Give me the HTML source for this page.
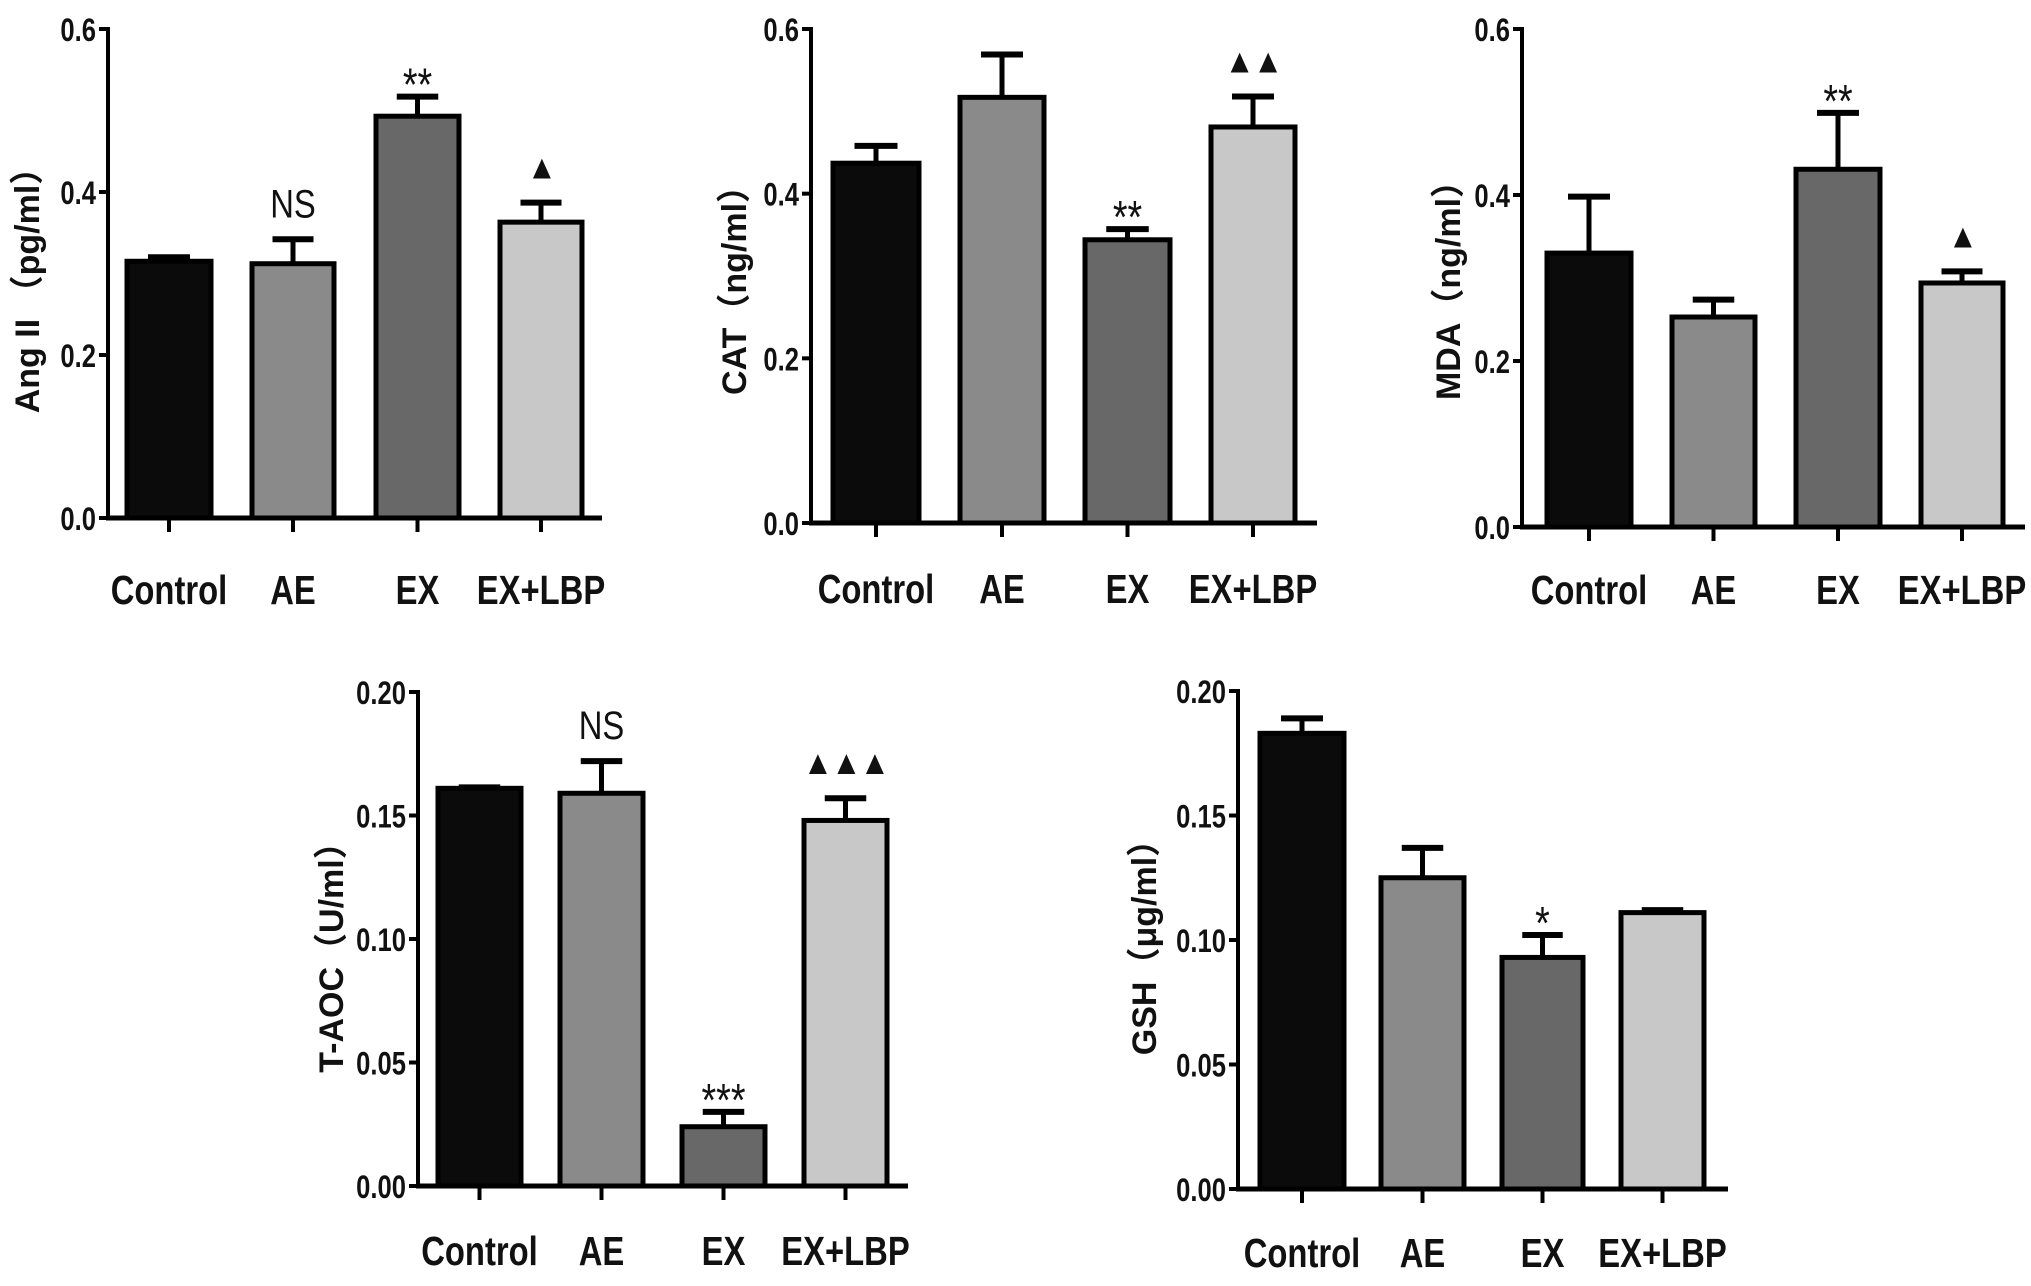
<!DOCTYPE html>
<html><head><meta charset="utf-8"><style>
html,body{margin:0;padding:0;background:#fff;}
svg{display:block;}
</style></head><body>
<svg id="fig" width="2031" height="1286" viewBox="0 0 2031 1286" xmlns="http://www.w3.org/2000/svg"></svg>
<script>
const categories = ["Control","AE","EX","EX+LBP"];
const angValues = [0.315, 0.312, 0.493, 0.363];
const angErr = [0.320, 0.342, 0.517, 0.387];
const angTicks = ["0.0","0.2","0.4","0.6"];
const catValues = [0.437, 0.517, 0.344, 0.481];
const catErr = [0.458, 0.569, 0.357, 0.518];
const catTicks = ["0.0","0.2","0.4","0.6"];
const mdaValues = [0.330, 0.253, 0.431, 0.294];
const mdaErr = [0.398, 0.274, 0.499, 0.308];
const mdaTicks = ["0.0","0.2","0.4","0.6"];
const taocValues = [0.161, 0.159, 0.024, 0.148];
const taocErr = [0.161, 0.172, 0.030, 0.157];
const taocTicks = ["0.00","0.05","0.10","0.15","0.20"];
const gshValues = [0.183, 0.125, 0.093, 0.111];
const gshErr = [0.189, 0.137, 0.102, 0.112];
const gshTicks = ["0.00","0.05","0.10","0.15","0.20"];
const angMarks = ["", "NS", "**", "▲"];
const catMarks = ["", "", "**", "▲▲"];
const mdaMarks = ["", "", "**", "▲"];
const taocMarks = ["", "NS", "***", "▲▲▲"];
const gshMarks = ["", "", "*", ""];

const fills = ["#0b0b0b","#8a8a8a","#686868","#c8c8c8"];
const NS = "http://www.w3.org/2000/svg";
const svg = document.getElementById("fig");
function mk(tag, attrs, parent){
  const e = document.createElementNS(NS, tag);
  for (const k in attrs) e.setAttribute(k, attrs[k]);
  (parent||svg).appendChild(e);
  return e;
}
const panels = [
  {id:"ang", title:"Ang II （pg/ml）", vals:angValues, err:angErr, ticks:angTicks, marks:angMarks, max:0.6,
   ax:108, top:29, zero:518, right:602, bars:[[127,211],[252,334],[376,459],[500,582]], labY:604, tx:28, ty:282},
  {id:"cat", title:"CAT（ng/ml）", vals:catValues, err:catErr, ticks:catTicks, marks:catMarks, max:0.6,
   ax:811, top:29, zero:523, right:1317, bars:[[833,919],[960,1044],[1085,1170],[1211,1295]], labY:603, tx:735, ty:282},
  {id:"mda", title:"MDA（ng/ml）", vals:mdaValues, err:mdaErr, ticks:mdaTicks, marks:mdaMarks, max:0.6,
   ax:1522, top:29, zero:527, right:2025, bars:[[1547,1631],[1672,1755],[1796,1880],[1921,2003]], labY:604, tx:1449, ty:282},
  {id:"taoc", title:"T-AOC（U/ml）", vals:taocValues, err:taocErr, ticks:taocTicks, marks:taocMarks, max:0.2,
   ax:418, top:692, zero:1186, right:908, bars:[[438,521],[560,643],[682,765],[804,887]], labY:1265, tx:332, ty:949},
  {id:"gsh", title:"GSH（μg/ml）", vals:gshValues, err:gshErr, ticks:gshTicks, marks:gshMarks, max:0.2,
   ax:1238, top:691, zero:1189, right:1728, bars:[[1260,1344],[1381,1464],[1502,1583],[1621,1704]], labY:1267, tx:1145, ty:939}
];
const FONT = '"Liberation Sans", "Noto Sans CJK SC", sans-serif';
panels.forEach(p => {
  const g = mk("g", {});
  
  
  const y = v => p.zero - v / p.max * (p.zero - p.top);
  p.vals.forEach((v, i) => {
    const [x0, x1] = p.bars[i];
    const r = mk("rect", {x:x0, y:y(v), width:x1-x0, height:p.zero-y(v), fill:fills[i], stroke:"#000", "stroke-width":5}, g);
    
    
    const cx = (x0+x1)/2, w = (x1-x0);
    if (p.err[i] > v + 0.0005) {
      const ln = mk("line", {x1:cx, x2:cx, y1:y(v), y2:y(p.err[i]), stroke:"#000", "stroke-width":5}, g);
      
      
      const cap = mk("line", {x1:cx-w*0.25, x2:cx+w*0.25, y1:y(p.err[i]), y2:y(p.err[i]), stroke:"#000", "stroke-width":6}, g);
      
      
    } else {
      const cap = mk("line", {x1:cx-w*0.25, x2:cx+w*0.25, y1:y(v)-2, y2:y(v)-2, stroke:"#000", "stroke-width":4}, g);
      
      
    }
    const xt = mk("line", {x1:cx, x2:cx, y1:p.zero, y2:p.zero+14, stroke:"#000", "stroke-width":4}, g);
    
    
    const t = mk("text", {transform:`translate(${cx},${p.labY}) scale(0.8,1)`, "text-anchor":"middle", "font-family":FONT, "font-weight":"bold", "font-size":41, fill:"#111"}, g);
    t.textContent = categories[i];
    
    
    const m = p.marks[i];
    if (m) {
      const top = y(p.err[i]);
      const isTri = m.indexOf("▲") >= 0;
      const isStar = m.indexOf("*") >= 0;
      const gap = isTri ? 24 : (isStar ? 18 : 22);
      const fs = isTri ? 34 : (isStar ? 46 : 40);
      const mt = mk("text", {transform:`translate(${cx},${top-gap+(isStar?22:0)}) scale(${isTri?0.9:0.82},1)`, "text-anchor":"middle", "font-family":FONT, "font-size":fs, fill:"#111", "letter-spacing": isTri? -2:0}, g);
      mt.textContent = m;
      
      
    }
  });
  const ya = mk("line", {x1:p.ax, x2:p.ax, y1:p.top-2, y2:p.zero+2, stroke:"#000", "stroke-width":4}, g);
  
  
  const xa = mk("line", {x1:p.ax-2, x2:p.right, y1:p.zero, y2:p.zero, stroke:"#000", "stroke-width":5}, g);
  
  
  p.ticks.forEach(tl => {
    const ty = y(parseFloat(tl));
    const tk = mk("line", {x1:p.ax-9, x2:p.ax, y1:ty, y2:ty, stroke:"#000", "stroke-width":4}, g);
    
    
    const tt = mk("text", {transform:`translate(${p.ax-12},${ty+12}) scale(0.8,1)`, "text-anchor":"end", "font-family":FONT, "font-weight":"bold", "font-size":32, fill:"#111"}, g);
    tt.textContent = tl;
    
    
  });
  const yt = mk("text", {transform:`translate(${p.tx+11},${p.ty}) rotate(-90)`, "text-anchor":"middle", "font-family":FONT, "font-weight":"bold", "font-size":34, fill:"#111"}, g);
  yt.textContent = p.title;
  
  
});
</script>
</body></html>
